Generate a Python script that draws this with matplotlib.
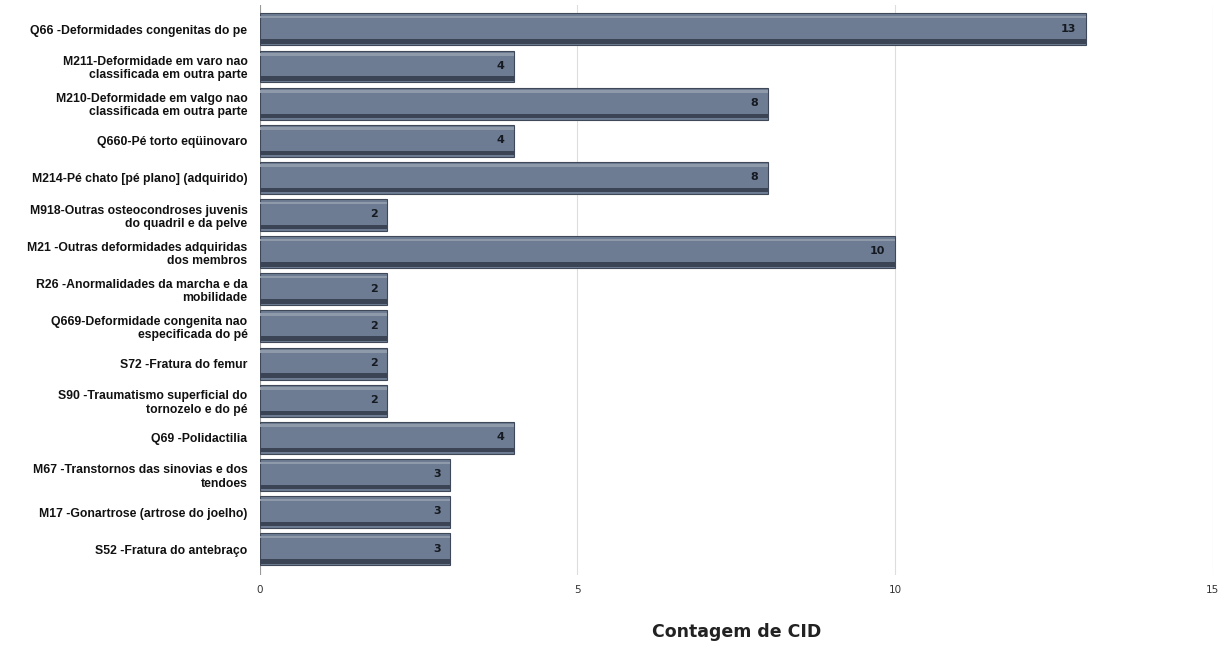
import matplotlib.pyplot as plt

# rótulos das categorias (CID) e contagens
categorias = [
    "Q66 -Deformidades congenitas do pe",
    "M211-Deformidade em varo nao\nclassificada em outra parte",
    "M210-Deformidade em valgo nao\nclassificada em outra parte",
    "Q660-Pé torto eqüinovaro",
    "M214-Pé chato [pé plano] (adquirido)",
    "M918-Outras osteocondroses juvenis\ndo quadril e da pelve",
    "M21 -Outras deformidades adquiridas\ndos membros",
    "R26 -Anormalidades da marcha e da\nmobilidade",
    "Q669-Deformidade congenita nao\nespecificada do pé",
    "S72 -Fratura do femur",
    "S90 -Traumatismo superficial do\ntornozelo e do pé",
    "Q69 -Polidactilia",
    "M67 -Transtornos das sinovias e dos\ntendoes",
    "M17 -Gonartrose (artrose do joelho)",
    "S52 -Fratura do antebraço",
]
contagens = [13, 4, 8, 4, 8, 2, 10, 2, 2, 2, 2, 4, 3, 3, 3]
xticks = [0, 5, 10, 15]

fig = plt.figure(figsize=(12.26, 6.5), dpi=100)
ax = fig.add_axes([0.212, 0.115, 0.777, 0.877])

pos = list(range(len(categorias)))
altura = 0.86

# barra principal + faixa escura embaixo (efeito 3D simples)
ax.barh(pos, contagens, height=altura, color="#6d7c92", edgecolor="#3e4858", linewidth=0.8, zorder=3)
ax.barh([p + altura * 0.38 for p in pos], contagens, height=altura * 0.14,
        color="#3a4455", linewidth=0, zorder=4)
ax.barh([p - altura * 0.38 for p in pos], contagens, height=altura * 0.08,
        color="#8e99aa", linewidth=0, zorder=4)

for p, v in zip(pos, contagens):
    ax.text(v - 0.15, p - 0.02, str(v), ha="right", va="center", fontsize=8,
            fontweight="bold", color="#151a22", zorder=5)

ax.set_xlim(0, 15)
ax.set_ylim(14.7, -0.65)
ax.set_yticks(pos)
ax.set_yticklabels(categorias, fontsize=8.8, fontweight="bold", family="Liberation Sans",
                   ha="right", multialignment="right", linespacing=1.15, color="#111111")
ax.tick_params(axis="y", length=0, pad=9)
ax.set_xticks(xticks)
ax.tick_params(axis="x", length=0, pad=7, labelsize=7.5, labelcolor="#333333")

ax.xaxis.grid(True, color="#dddddd", linewidth=0.8, zorder=0)
for s in ax.spines.values():
    s.set_visible(False)
ax.axvline(0, color="#999999", linewidth=0.8, zorder=2)

ax.set_xlabel("Contagem de CID", fontsize=12.5, fontweight="bold", labelpad=20, color="#222222")

fig.savefig("out.png", dpi=100)
